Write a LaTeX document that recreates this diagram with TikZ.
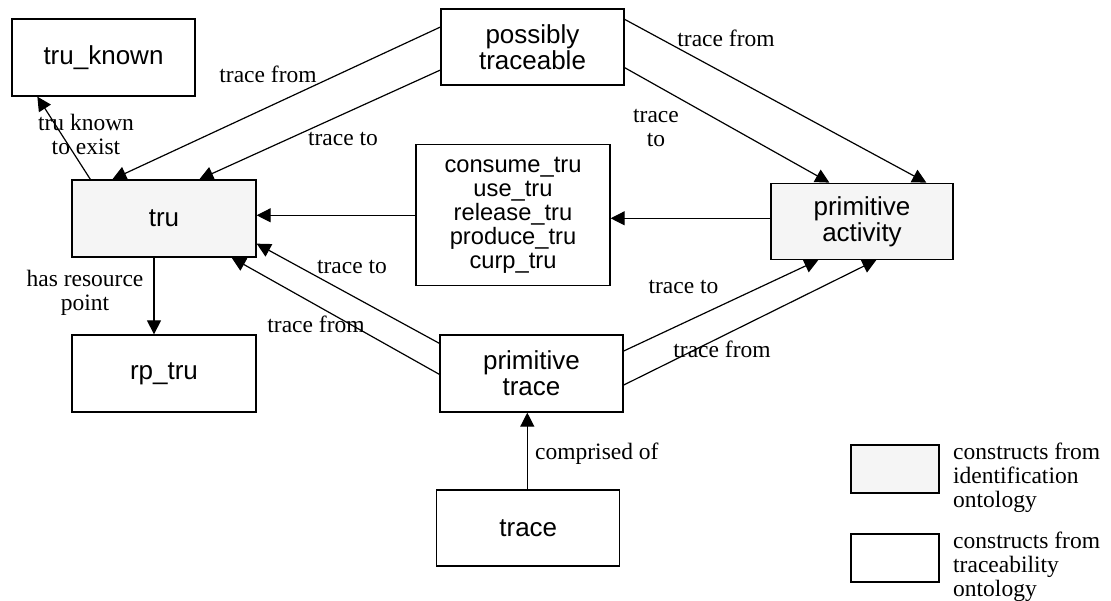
\documentclass[tikz,border=0pt]{standalone}
\usepackage{fontspec}
\setmainfont{Liberation Serif}
\newfontfamily\boxfont{Liberation Sans}
\usetikzlibrary{arrows.meta,calc}
\tikzset{
  ent/.style={draw=black, line width=1.3pt, minimum width=183pt, minimum height=77pt, inner sep=0pt, align=center, font=\boxfont\fontsize{26}{26}\selectfont},
  idf/.style={ent, fill=gray!8},
  rel/.style={line width=1.2pt, -{Triangle[length=14pt,width=14pt]}},
  lbl/.style={inner sep=0pt, font=\fontsize{23.5}{24}\selectfont},
  mlbl/.style={lbl, align=center},
  legtext/.style={inner sep=0pt, align=left, anchor=north west, font=\fontsize{23.5}{23}\selectfont},
}
\begin{document}
\begin{tikzpicture}[x=1pt,y=-1pt]
\useasboundingbox (0,0) rectangle (1111,601);
% entities
\node[ent] (tk) at (103.5,57.5) {tru\_known};
\node[idf, minimum width=184pt] (tru) at (164,218.5) {tru};
\node[ent, minimum width=184pt] (rp) at (164,373.5) {rp\_tru};
\node[ent, minimum height=76pt] (pt) at (532.5,47) {possibly\\traceable};
\node[ent, minimum width=194pt, minimum height=141pt, font=\boxfont\fontsize{23.7}{24}\selectfont] (ops) at (513,215.3) {consume\_tru\\use\_tru\\release\_tru\\produce\_tru\\curp\_tru};
\node[idf, minimum width=182pt, minimum height=76pt] (pa) at (862,221.3) {primitive\\activity};
\node[ent] (ptr) at (531.5,373.5) {primitive\\trace};
\node[ent, minimum height=76pt] (tr) at (528.3,528) {trace};
% legend boxes
\node[idf, minimum width=88pt, minimum height=48pt] (lg1) at (895,469) {};
\node[ent, minimum width=88pt, minimum height=48pt] (lg2) at (895,558) {};
% connectors
\draw[rel] ([xshift=19pt]tru.north west) -- ([xshift=26pt]tk.south west);
\draw[rel] ([yshift=-18.7pt]pt.north west) -- ([xshift=41pt]tru.north west);
\draw[rel] ([yshift=-61.7pt]pt.north west) -- ([xshift=128pt]tru.north west);
\draw[rel] (ops.west) -- (ops.west -| tru.east);
\draw[rel] ([yshift=3pt]pa.west) -- ([yshift=3pt]pa.west -| ops.east);
\draw[rel] ([yshift=-11pt]pt.north east) -- ([xshift=156pt]pa.north west);
\draw[rel] ([yshift=-59.3pt]pt.north east) -- ([xshift=59pt]pa.north west);
\draw[rel] ([yshift=-9pt]ptr.north west) -- ([yshift=14pt]tru.south east);
\draw[rel] ([yshift=-40pt]ptr.north west) -- ([xshift=-25pt]tru.south east);
\draw[rel] ([yshift=-16.7pt]ptr.north east) -- ([xshift=48pt]pa.south west);
\draw[rel] ([yshift=-50.7pt]ptr.north east) -- ([xshift=106pt]pa.south west);
\draw[rel] ([xshift=-1pt]tr.north) -- ([xshift=-1pt]tr.north |- ptr.south);
\draw[rel] ([xshift=-10pt]tru.south) -- ([xshift=-10pt]tru.south |- rp.north);
% labels
\node[lbl, anchor=base] (l1) at (268,82.7) {trace from};
\node[lbl, anchor=base] (l2) at (343,145.7) {trace to};
\node[mlbl] (l3) at (86,138) {\strut tru known\\\strut to exist};
\node[mlbl] (l4) at (85,294.2) {\strut has resource\\\strut point};
\node[lbl, anchor=base] (l5) at (352,273.3) {trace to};
\node[lbl, anchor=base] (l6) at (316,332.7) {trace from};
\node[lbl, anchor=base] (l7) at (683.5,293.3) {trace to};
\node[lbl, anchor=base] (l8) at (722,357.7) {trace from};
\node[lbl, anchor=base] (l9) at (726,46.3) {trace from};
\node[mlbl] (l10) at (656,130) {\strut trace\\\strut to};
\node[lbl, anchor=base west] (l11) at (535,459.3) {comprised of};
\node[legtext] (lt1) at (953,442.5) {\strut constructs from\\\strut identification\\\strut ontology};
\node[legtext] (lt2) at (953,531.5) {\strut constructs from\\\strut traceability\\\strut ontology};
\end{tikzpicture}
\end{document}
